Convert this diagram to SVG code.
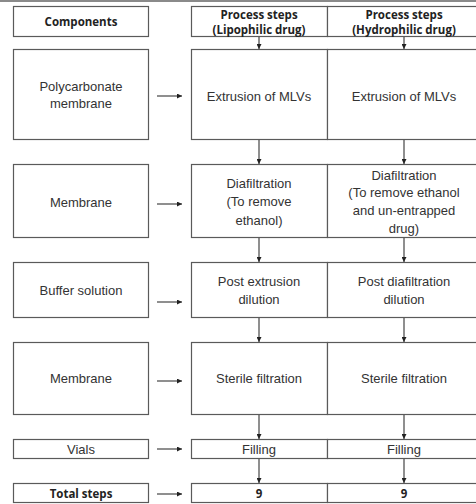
<svg xmlns="http://www.w3.org/2000/svg" width="476" height="504" viewBox="0 0 476 504">
  <style>
    .box { fill: #fff; stroke: #5a5a5a; stroke-width: 1.2; }
    .t { font-family: "Liberation Sans", Arial, sans-serif; font-size: 13px; fill: #333; text-anchor: middle; }
    .b { font-family: "Open Sans", "Liberation Sans", sans-serif; font-size: 11.5px; font-weight: bold; fill: #222; text-anchor: middle; }
    .c { stroke: #333; stroke-width: 1.1; fill: none; marker-end: url(#ah); }
  </style>
  <defs>
    <marker id="ah" viewBox="0 0 6 6" refX="6" refY="3" markerWidth="5" markerHeight="5" markerUnits="userSpaceOnUse" orient="auto">
      <path d="M0,0 L6,3 L0,6 z" fill="#222"/>
    </marker>
  </defs>
  <rect width="476" height="504" fill="#fff"/>
  <line x1="0" y1="1" x2="476" y2="1" stroke="#8a8a8a" stroke-width="2"/>

  <!-- header row -->
  <g id="hdr-components">
    <rect class="box" x="13.5" y="6.5" width="135" height="30"/>
    <text class="b" x="81" y="26">Components</text>
  </g>
  <g id="hdr-lipo">
    <rect class="box" x="191.5" y="6.5" width="136" height="30"/>
    <text class="b" x="259" y="19">Process steps</text>
    <text class="b" x="259" y="34">(Lipophilic drug)</text>
  </g>
  <g id="hdr-hydro">
    <rect class="box" x="327.5" y="6.5" width="160" height="30"/>
    <text class="b" x="404" y="19">Process steps</text>
    <text class="b" x="404" y="34">(Hydrophilic drug)</text>
  </g>

  <!-- row 1: extrusion -->
  <g id="comp-polycarbonate">
    <rect class="box" x="13.5" y="49.5" width="135" height="90"/>
    <text class="t" x="81" y="91">Polycarbonate</text>
    <text class="t" x="81" y="108">membrane</text>
  </g>
  <g id="lipo-extrusion">
    <rect class="box" x="191.5" y="49.5" width="136" height="90"/>
    <text class="t" x="259" y="100.5">Extrusion of MLVs</text>
  </g>
  <g id="hydro-extrusion">
    <rect class="box" x="327.5" y="49.5" width="160" height="90"/>
    <text class="t" x="404" y="100.5">Extrusion of MLVs</text>
  </g>

  <!-- row 2: diafiltration -->
  <g id="comp-membrane-1">
    <rect class="box" x="13.5" y="164.5" width="135" height="73"/>
    <text class="t" x="81" y="206.5">Membrane</text>
  </g>
  <g id="lipo-diafiltration">
    <rect class="box" x="191.5" y="164.5" width="136" height="73"/>
    <text class="t" x="259" y="187.5">Diafiltration</text>
    <text class="t" x="259" y="206">(To remove</text>
    <text class="t" x="259" y="224.5">ethanol)</text>
  </g>
  <g id="hydro-diafiltration">
    <rect class="box" x="327.5" y="164.5" width="160" height="73"/>
    <text class="t" x="404" y="179.5">Diafiltration</text>
    <text class="t" x="404" y="196.5">(To remove ethanol</text>
    <text class="t" x="404" y="214.5">and un-entrapped</text>
    <text class="t" x="404" y="232.5">drug)</text>
  </g>

  <!-- row 3: dilution -->
  <g id="comp-buffer">
    <rect class="box" x="13.5" y="262.5" width="135" height="55"/>
    <text class="t" x="81" y="294.5">Buffer solution</text>
  </g>
  <g id="lipo-dilution">
    <rect class="box" x="191.5" y="262.5" width="136" height="55"/>
    <text class="t" x="259" y="285.5">Post extrusion</text>
    <text class="t" x="259" y="303.5">dilution</text>
  </g>
  <g id="hydro-dilution">
    <rect class="box" x="327.5" y="262.5" width="160" height="55"/>
    <text class="t" x="404" y="285.5">Post diafiltration</text>
    <text class="t" x="404" y="303.5">dilution</text>
  </g>

  <!-- row 4: sterile filtration -->
  <g id="comp-membrane-2">
    <rect class="box" x="13.5" y="342.5" width="135" height="72"/>
    <text class="t" x="81" y="382.5">Membrane</text>
  </g>
  <g id="lipo-sterile">
    <rect class="box" x="191.5" y="342.5" width="136" height="72"/>
    <text class="t" x="259" y="382.5">Sterile filtration</text>
  </g>
  <g id="hydro-sterile">
    <rect class="box" x="327.5" y="342.5" width="160" height="72"/>
    <text class="t" x="404" y="382.5">Sterile filtration</text>
  </g>

  <!-- row 5: filling -->
  <g id="comp-vials">
    <rect class="box" x="13.5" y="439.5" width="135" height="19"/>
    <text class="t" x="81" y="454">Vials</text>
  </g>
  <g id="lipo-filling">
    <rect class="box" x="191.5" y="439.5" width="136" height="19"/>
    <text class="t" x="259" y="454">Filling</text>
  </g>
  <g id="hydro-filling">
    <rect class="box" x="327.5" y="439.5" width="160" height="19"/>
    <text class="t" x="404" y="454">Filling</text>
  </g>

  <!-- row 6: totals -->
  <g id="comp-total">
    <rect class="box" x="13.5" y="483.5" width="135" height="19"/>
    <text class="b" x="81" y="497.5">Total steps</text>
  </g>
  <g id="lipo-total">
    <rect class="box" x="191.5" y="483.5" width="136" height="19"/>
    <text class="b" x="259" y="497.5">9</text>
  </g>
  <g id="hydro-total">
    <rect class="box" x="327.5" y="483.5" width="160" height="19"/>
    <text class="b" x="404" y="497.5">9</text>
  </g>

  <g id="connectors">
    <!-- component to step -->
    <line class="c" x1="157" y1="96" x2="182" y2="96"/>
    <line class="c" x1="157" y1="204" x2="182" y2="204"/>
    <line class="c" x1="157" y1="302" x2="182" y2="302"/>
    <line class="c" x1="157" y1="381" x2="182" y2="381"/>
    <line class="c" x1="157" y1="449" x2="182" y2="449"/>
    <line class="c" x1="157" y1="494" x2="182" y2="494"/>
    <!-- lipophilic column -->
    <line class="c" x1="259" y1="37" x2="259" y2="49"/>
    <line class="c" x1="259" y1="140" x2="259" y2="164"/>
    <line class="c" x1="259" y1="238" x2="259" y2="262"/>
    <line class="c" x1="259" y1="318" x2="259" y2="342"/>
    <line class="c" x1="259" y1="415" x2="259" y2="439"/>
    <line class="c" x1="259" y1="459" x2="259" y2="483"/>
    <!-- hydrophilic column -->
    <line class="c" x1="404" y1="37" x2="404" y2="49"/>
    <line class="c" x1="404" y1="140" x2="404" y2="164"/>
    <line class="c" x1="404" y1="238" x2="404" y2="262"/>
    <line class="c" x1="404" y1="318" x2="404" y2="342"/>
    <line class="c" x1="404" y1="415" x2="404" y2="439"/>
    <line class="c" x1="404" y1="459" x2="404" y2="483"/>
  </g>
</svg>
